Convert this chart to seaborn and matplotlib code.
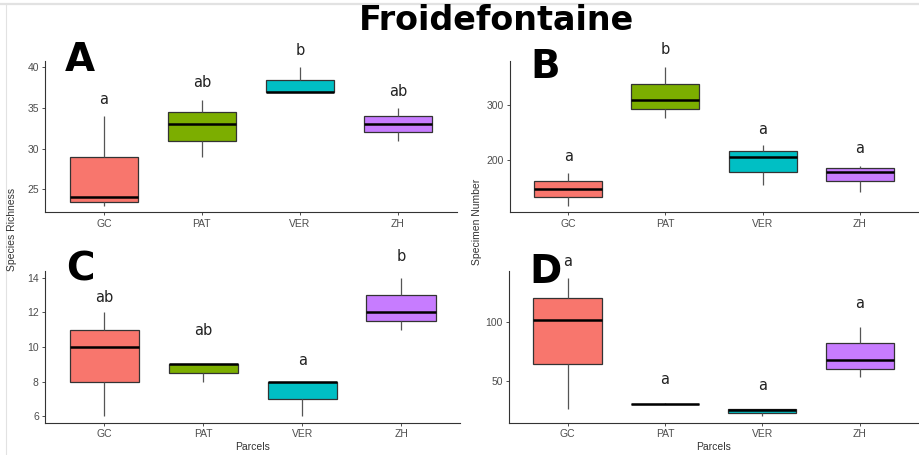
import numpy as np
import pandas as pd
import matplotlib.pyplot as plt
import seaborn as sns

parcels = ['GC', 'PAT', 'VER', 'ZH']
colors = ['#F8766D', '#7CAE00', '#00BFC4', '#C77CFF']

# five-number summaries (min, Q1, median, Q3, max) per parcel
rich_a = [[23, 23.5, 24, 29, 34], [29, 31, 33, 34.5, 36], [37, 37, 37, 38.5, 40], [31, 32, 33, 34, 35]]
spec_b = [[117, 132, 148, 162, 176], [277, 293, 310, 339, 369], [155, 179, 205, 216, 227], [141, 161, 179, 185, 190]]
rich_c = [[6, 8, 10, 11, 12], [8, 8.5, 9, 9, 9], [6, 7, 8, 8, 8], [11, 11.5, 12, 13, 14]]
spec_d = [[25.7, 64, 101.7, 120, 137.5], [30, 30, 30, 30, 31], [20, 23, 25, 26, 26], [53, 60, 68, 82, 96]]

# significance letters and where they sit
letters_a = ['a', 'ab', 'b', 'ab']
letters_b = ['a', 'b', 'a', 'a']
letters_c = ['ab', 'ab', 'a', 'b']
letters_d = ['a', 'a', 'a', 'a']
lety_a = [36.1, 38.1, 42.1, 37.0]
lety_b = [207, 402, 255, 221]
lety_c = [12.85, 10.94, 9.2, 15.2]
lety_d = [150.8, 50.9, 46, 115.7]

yticks_a = [25, 30, 35, 40]
yticks_b = [200, 300]
yticks_c = [6, 8, 10, 12, 14]
yticks_d = [50, 100]

sns.set_style("ticks")
plt.rcParams['font.family'] = ['Liberation Sans', 'DejaVu Sans']
plt.rcParams['text.color'] = 'black'

fig = plt.figure(figsize=(9.19, 4.55), dpi=100)


def long_df(summ):
    rows = []
    for p, vals in zip(parcels, summ):
        for v in vals:
            rows.append({'parcel': p, 'value': v})
    return pd.DataFrame(rows)


def panel(rect, summ, letters, lety, yticks, tag, tagpos, xlabel):
    ax = fig.add_axes(rect)
    df = long_df(summ)
    sns.boxplot(data=df, x='parcel', y='value', hue='parcel', order=parcels,
                hue_order=parcels, palette=colors, saturation=1, legend=False, width=0.7,
                whis=(0, 100), showcaps=False, linecolor='#333333', linewidth=0.9,
                medianprops={'color': 'black', 'linewidth': 1.8},
                whiskerprops={'color': '#555555'}, ax=ax)
    lo = np.min(summ)
    hi = np.max(summ)
    pad = 0.05 * (hi - lo)
    ax.set_ylim(lo - pad, hi + pad)
    ax.set_xlim(-0.6, 3.6)
    ax.set_yticks(yticks)
    for i, (t, y) in enumerate(zip(letters, lety)):
        ax.text(i, y, t, ha='center', va='center', fontsize=10.5,
                color='#222222', family='DejaVu Sans', clip_on=False)
    ax.text(tagpos[0], tagpos[1], tag, transform=ax.transAxes, fontsize=28,
            fontweight='bold', family='DejaVu Sans', ha='center', va='center',
            color='black')
    sns.despine(ax=ax)
    for s in ['left', 'bottom']:
        ax.spines[s].set_color('#333333')
        ax.spines[s].set_linewidth(0.8)
    ax.tick_params(labelsize=7.5, colors='#4D4D4D', length=2.5, width=0.7, pad=2)
    ax.set_ylabel('')
    ax.set_xlabel(xlabel, fontsize=7.5, color='#333333', labelpad=2)
    return ax


axA = panel([0.049, 0.533, 0.448, 0.334], rich_a, letters_a, lety_a, yticks_a, 'A', (0.085, 1.005), '')
axB = panel([0.555, 0.533, 0.444, 0.334], spec_b, letters_b, lety_b, yticks_b, 'B', (0.086, 0.955), '')
axC = panel([0.049, 0.070, 0.452, 0.335], rich_c, letters_c, lety_c, yticks_c, 'C', (0.085, 1.01), 'Parcels')
axD = panel([0.554, 0.070, 0.445, 0.335], spec_d, letters_d, lety_d, yticks_d, 'D', (0.088, 0.99), 'Parcels')

fig.text(12 / 919, 1 - 229 / 455, 'Species Richness', rotation=90, fontsize=7.5,
         color='#333333', ha='center', va='center')
fig.text(477 / 919, 1 - 222 / 455, 'Specimen Number', rotation=90, fontsize=7.5,
         color='#333333', ha='center', va='center')
fig.text(496 / 919, 1 - 20 / 455, 'Froidefontaine', fontsize=24, fontweight='bold',
         family='DejaVu Sans', ha='center', va='center', color='black')

# screenshot frame lines
fig.add_artist(plt.Line2D([0, 1], [1 - 3.5 / 455, 1 - 3.5 / 455], color='#E2E2E2', lw=1.6))
fig.add_artist(plt.Line2D([6 / 919, 6 / 919], [0, 1 - 3.5 / 455], color='#E2E2E2', lw=0.8))

fig.savefig('out.png', dpi=100)
